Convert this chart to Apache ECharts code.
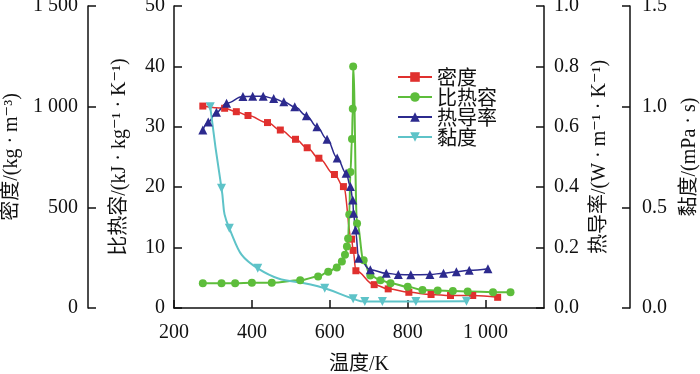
<!DOCTYPE html>
<html>
<head>
<meta charset="utf-8">
<script src="https://cdn.jsdelivr.net/npm/echarts@6/dist/echarts.min.js"></script>
<style>
html, body { margin: 0; padding: 0; background: #fff; }
#chart { width: 700px; height: 374px; }
</style>
</head>
<body>
<div id="chart"></div>
<script>
(function() {

// 温度 (K) 和各物性数据
var tDensity = [274, 330, 360, 390, 440, 473, 512, 542, 572, 612, 635, 656, 660, 667, 714, 750, 803, 860, 910, 967, 1031];
var density  = [1003, 992, 975, 956, 921, 884, 838, 796, 744, 663, 603, 342, 286, 185, 116, 95, 78, 67, 62, 62, 53];

var tCp = [274, 322, 357, 400, 451, 524, 570, 596, 618, 631, 639, 644, 647, 650, 653, 657, 659, 660, 670, 687, 704, 730, 756, 800, 838, 877, 916, 954, 1019, 1064];
var cp  = [4.1, 4.1, 4.1, 4.2, 4.2, 4.6, 5.2, 6.0, 6.7, 7.7, 8.8, 10.2, 11.5, 15.5, 22.5, 28, 33, 40, 14, 7.9, 5.4, 4.6, 4.1, 3.5, 3.0, 2.9, 2.8, 2.75, 2.6, 2.6];

var tK = [274, 288, 309, 335, 377, 402, 429, 456, 482, 510, 540, 567, 593, 619, 642, 653, 659, 661, 666, 674, 704, 745, 776, 808, 857, 892, 925, 958, 1006];
var k  = [0.589, 0.616, 0.648, 0.678, 0.700, 0.701, 0.701, 0.694, 0.683, 0.666, 0.637, 0.600, 0.559, 0.497, 0.446, 0.402, 0.358, 0.314, 0.258, 0.165, 0.127, 0.115, 0.111, 0.110, 0.111, 0.115, 0.120, 0.125, 0.130];

var tMu = [293, 322, 342, 415, 587, 660, 690, 735, 821, 951];
var mu  = [1.0, 0.595, 0.396, 0.197, 0.098, 0.046, 0.032, 0.032, 0.032, 0.033];

var seriesNames = ['密度', '比热容', '热导率', '黏度'];
var colors = ['#e0302e', '#5dbd3b', '#2c2a8e', '#5ec3c8'];

function pairs(xs, ys) {
    return xs.map(function(x, i) { return [x, ys[i]]; });
}

function thousands(v) {
    if (v >= 1000) {
        return Math.floor(v / 1000) + ' ' + String(v % 1000).padStart(3, '0');
    }
    return String(v);
}

var numFont = "'Liberation Serif', 'DejaVu Serif', 'Noto Sans CJK SC', serif";
var axisLine = { show: true, lineStyle: { color: '#111', width: 1.5 } };
var axisTick = { show: true, inside: true, length: 8, lineStyle: { color: '#111', width: 1.5 } };
var labelStyle = { color: '#111', fontSize: 20, fontFamily: numFont };
var nameStyle = { color: '#111', fontSize: 20, fontFamily: numFont };
var rightNameStyle = { color: '#111', fontSize: 20, fontFamily: numFont, align: 'center', verticalAlign: 'top' };
var leftNameStyle = { color: '#111', fontSize: 20, fontFamily: numFont, align: 'center', verticalAlign: 'bottom' };

var myChart = echarts.init(document.getElementById('chart'));

var option = {
    animation: false,
    backgroundColor: '#fff',
    color: colors,
    grid: { left: 174, right: 156, top: 6, bottom: 66, containLabel: false, outerBoundsMode: 'none' },
    legend: {
        orient: 'vertical',
        left: 392,
        top: 62,
        itemWidth: 34,
        itemHeight: 12,
        itemGap: 0,
        textStyle: { fontSize: 20, color: '#111', fontFamily: "'Noto Sans CJK SC'", lineHeight: 19 },
        data: seriesNames
    },
    xAxis: {
        type: 'value',
        min: 200,
        max: 1150,
        interval: 200,
        name: '温度/K',
        nameLocation: 'middle',
        nameGap: 47,
        nameTextStyle: nameStyle,
        axisLine: axisLine,
        axisTick: axisTick,
        splitLine: { show: false },
        axisLabel: Object.assign({ margin: 15, showMaxLabel: false, formatter: thousands }, labelStyle)
    },
    yAxis: [{
        type: 'value', position: 'left', offset: 86,
        min: 0, max: 1500, interval: 500,
        name: '密度/(kg · m⁻³)', nameLocation: 'middle', nameGap: 63, nameRotate: 90,
        nameTextStyle: leftNameStyle,
        axisLine: axisLine, axisTick: axisTick, splitLine: { show: false },
        axisLabel: Object.assign({ margin: 10, formatter: thousands }, labelStyle)
    }, {
        type: 'value', position: 'left', offset: 0,
        min: 0, max: 50, interval: 10,
        name: '比热容/(kJ · kg⁻¹ · K⁻¹)', nameLocation: 'middle', nameGap: 44, nameRotate: 90,
        nameTextStyle: leftNameStyle,
        axisLine: axisLine, axisTick: axisTick, splitLine: { show: false },
        axisLabel: Object.assign({ margin: 9 }, labelStyle)
    }, {
        type: 'value', position: 'right', offset: 0,
        min: 0, max: 1.0, interval: 0.2,
        name: '热导率/(W · m⁻¹ · K⁻¹)', nameLocation: 'middle', nameGap: 46, nameRotate: 90,
        nameTextStyle: rightNameStyle,
        axisLine: axisLine, axisTick: axisTick, splitLine: { show: false },
        axisLabel: Object.assign({ margin: 10, formatter: function(v) { return v.toFixed(1); } }, labelStyle)
    }, {
        type: 'value', position: 'right', offset: 86,
        min: 0, max: 1.5, interval: 0.5,
        name: '黏度/(mPa · s)', nameLocation: 'middle', nameGap: 50, nameRotate: 90,
        nameTextStyle: rightNameStyle,
        axisLine: axisLine, axisTick: axisTick, splitLine: { show: false },
        axisLabel: Object.assign({ margin: 12, formatter: function(v) { return v.toFixed(1); } }, labelStyle)
    }],
    series: [{
        name: seriesNames[0], type: 'line', yAxisIndex: 0,
        smooth: 0.4, smoothMonotone: 'x',
        symbol: 'rect', symbolSize: 7,
        lineStyle: { width: 1.5 },
        data: pairs(tDensity, density)
    }, {
        name: seriesNames[1], type: 'line', yAxisIndex: 1,
        smooth: 0.4, smoothMonotone: 'x',
        symbol: 'circle', symbolSize: 8,
        lineStyle: { width: 2 },
        data: pairs(tCp, cp)
    }, {
        name: seriesNames[2], type: 'line', yAxisIndex: 2,
        smooth: 0.4, smoothMonotone: 'x',
        symbol: 'triangle', symbolSize: 9,
        lineStyle: { width: 1.5 },
        data: pairs(tK, k)
    }, {
        name: seriesNames[3], type: 'line', yAxisIndex: 3,
        smooth: 0.5,
        symbol: 'path://M0,0 L10,0 L5,9 Z', symbolSize: 9,
        lineStyle: { width: 2 },
        data: pairs(tMu, mu)
    }]
};

myChart.setOption(option);

window.onresize = function() {
    myChart.resize();
};

})();
</script>
</body>
</html>
